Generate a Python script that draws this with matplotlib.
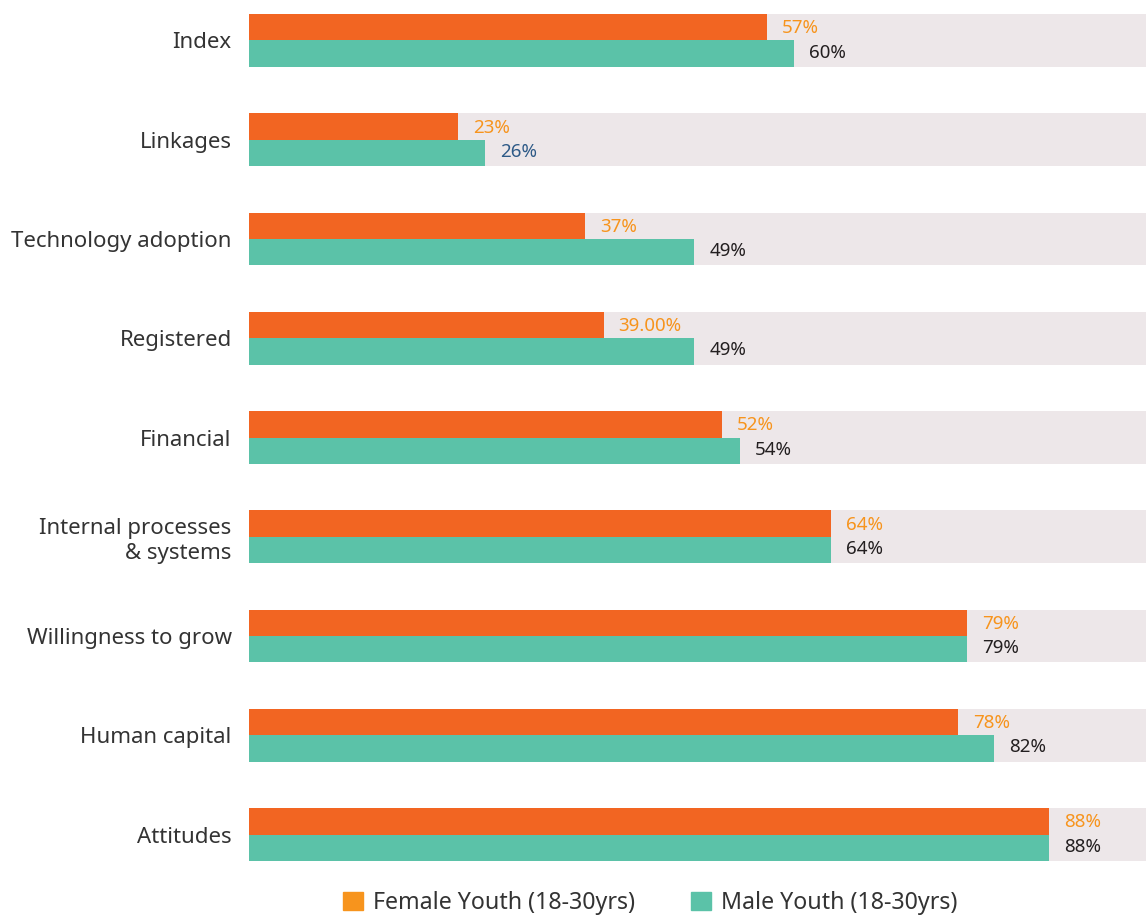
import numpy as np
import matplotlib.pyplot as plt
from matplotlib.patches import Patch

categories = ["Index", "Linkages", "Technology adoption", "Registered", "Financial",
              "Internal processes\n& systems", "Willingness to grow", "Human capital", "Attitudes"]
female = [0.57, 0.23, 0.37, 0.39, 0.52, 0.64, 0.79, 0.78, 0.88]
male = [0.60, 0.26, 0.49, 0.49, 0.54, 0.64, 0.79, 0.82, 0.88]
female_labels = ["57%", "23%", "37%", "39.00%", "52%", "64%", "79%", "78%", "88%"]
male_labels = ["60%", "26%", "49%", "49%", "54%", "64%", "79%", "82%", "88%"]

plt.rcParams['font.family'] = ['Noto Sans', 'DejaVu Sans']

W, H = 1146, 917
fig = plt.figure(figsize=(W / 100, H / 100), dpi=100)
ax = fig.add_axes([249 / W, 1 - 880 / H, 1 - 249 / W, 880 / H])

orange = "#F26522"
orange_txt = "#F7941D"
teal = "#5BC2A8"
bg = "#EDE7E9"

y = np.arange(len(categories))
h = 0.265
ax.barh(y, 1.0, height=2 * h, color=bg, zorder=1)
ax.barh(y - h / 2, female, height=h, color=orange, zorder=2)
ax.barh(y + h / 2, male, height=h, color=teal, zorder=2)

off = 15 / 909
for i in range(len(categories)):
    ax.text(female[i] + off, y[i] - h / 2 + 0.01, female_labels[i], color=orange_txt,
            fontsize=13.5, va='center', ha='left', zorder=3)
    mcol = "#2E5A87" if categories[i] == "Linkages" else "#231F20"
    ax.text(male[i] + off, y[i] + h / 2 - 0.01, male_labels[i], color=mcol,
            fontsize=13.5, va='center', ha='left', zorder=3)

ax.set_xlim(0, 897 / 909)
ax.set_ylim(8.458, -0.408)
ax.set_yticks(y)
ax.set_yticklabels(categories, fontsize=16, color="#333333", ha='right', linespacing=1.25)
ax.tick_params(axis='y', length=0, pad=12.5)
ax.set_xticks([])
for s in ax.spines.values():
    s.set_visible(False)

handles = [Patch(color=orange_txt, label="Female Youth (18-30yrs)"),
           Patch(color=teal, label="Male Youth (18-30yrs)")]
fig.legend(handles=handles, loc='center left', bbox_to_anchor=(334 / W, 1 - 903 / H),
           ncol=2, frameon=False, fontsize=16.7, handlelength=0.85, handleheight=0.85,
           handletextpad=0.44, columnspacing=2.4, borderaxespad=0, labelcolor="#333333")

fig.savefig("out.png", dpi=100)
